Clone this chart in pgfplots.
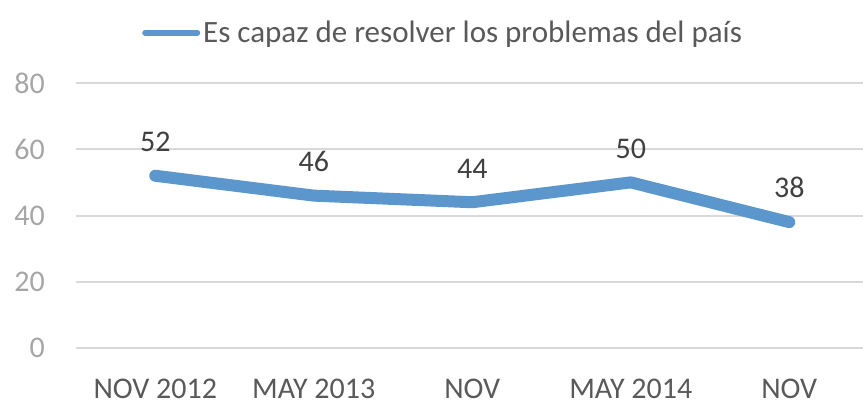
\documentclass[border=0pt]{standalone}
\usepackage{pgfplots}
\pgfplotsset{compat=1.18}
\usepackage{fontspec}
\setmainfont{Carlito}
\definecolor{lineblue}{HTML}{5B96CC}
\definecolor{gridgray}{HTML}{D9D9D9}
\definecolor{ytickgray}{HTML}{A6A6A6}
\definecolor{xtickgray}{HTML}{595959}
\definecolor{labelgray}{HTML}{404040}
\begin{document}
\begin{tikzpicture}[x=1pt,y=1pt]
\path[use as bounding box] (0,0) rectangle (863,409);
\begin{axis}[
  at={(76pt,61pt)}, anchor=south west,
  scale only axis, width=787pt, height=265pt,
  xmin=-0.5, xmax=4.465, ymin=0, ymax=80,
  axis line style={draw=none},
  tick style={draw=none},
  ytick={0,20,40,60,80},
  ymajorgrids, grid style={gridgray, line width=2pt},
  xtick={0,1,2,3,4},
  xticklabels={NOV 2012, MAY 2013, NOV, MAY 2014, NOV},
  font=\fontsize{30}{36}\selectfont,
  xticklabel style={inner sep=0pt, anchor=north, yshift=-31pt, text=xtickgray, font=\fontsize{30}{36}\selectfont},
  yticklabel style={inner sep=0pt, anchor=east, xshift=-31pt, text=ytickgray, font=\fontsize{30}{36}\selectfont},
  /pgf/number format/assume math mode=true,
  clip=false,
  nodes near coords,
  every node near coord/.append style={inner sep=0pt, anchor=south, yshift=18pt, text=labelgray, font=\fontsize{30}{36}\selectfont},
  legend style={draw=none, fill=none, inner sep=0pt, at={(axis description cs:0.0839,1.19)}, anchor=west,
    nodes={inner sep=0pt, text=xtickgray, font=\fontsize{31}{37}\selectfont}},
  legend cell align=left,
  legend image code/.code={\draw[lineblue, line width=6pt, line cap=round] (0pt,0pt) -- (52pt,0pt);},
]
\addplot[lineblue, line width=12pt, line cap=round, line join=round] coordinates {
  (0,52) (1,46) (2,44) (3,50) (4,38)
};
\addlegendentry{\hspace{3pt}Es capaz de resolver los problemas del país}
\end{axis}
\end{tikzpicture}
\end{document}
